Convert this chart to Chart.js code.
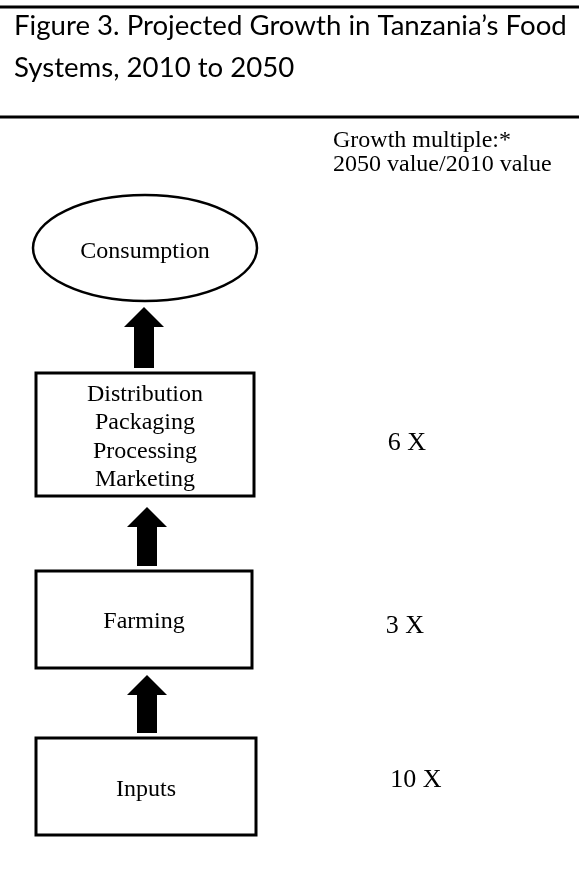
<!DOCTYPE html>
<html>
<head>
<meta charset="utf-8">
<script src="https://cdn.jsdelivr.net/npm/chart.js@4.4.1/dist/chart.umd.min.js"></script>
<style>
  html, body { margin: 0; padding: 0; background: #fff; }
  #wrap { width: 579px; height: 894px; }
</style>
</head>
<body>
<div id="wrap"><canvas id="fig"></canvas></div>
<script>
const TITLE_LINES = ['Figure 3. Projected Growth in Tanzania\u2019s Food', 'Systems, 2010 to 2050'];
const HEADER_LINES = ['Growth multiple:*', '2050 value/2010 value'];
// bottom to top, the way the arrows point
const STAGES = ['Inputs', 'Farming', 'Distribution\nPackaging\nProcessing\nMarketing', 'Consumption'];
const MULTIPLES = [10, 3, 6, null];

// page is laid out in pixel units on hidden linear axes
const W = 579;
const H = 894;
const SERIF = '"Liberation Serif", "Times New Roman", serif';

const boxes = [
  { x1: 36, x2: 256, y1: 738, y2: 835, base: 796 },
  { x1: 36, x2: 252, y1: 571, y2: 668, base: 628 },
  { x1: 36, x2: 254, y1: 373, y2: 496, base: 401 },
  { cx: 145, cy: 248, rx: 112, ry: 53, base: 258 }
];
const arrows = [
  { cx: 147, tip: 675, neck: 695, end: 733 },
  { cx: 147, tip: 507, neck: 527, end: 566 },
  { cx: 144, tip: 307, neck: 327, end: 368 }
];
const multipleSpots = [
  { x: 416, base: 787 },
  { x: 405, base: 633 },
  { x: 407, base: 450 }
];

const diagramPlugin = {
  id: 'diagram',
  afterDraw(chart) {
    const { ctx } = chart;
    const sx = chart.scales.x;
    const sy = chart.scales.y;
    const px = v => sx.getPixelForValue(v);
    const py = v => sy.getPixelForValue(v);

    ctx.save();
    ctx.fillStyle = '#000';
    ctx.strokeStyle = '#000';

    // title rules
    ctx.lineWidth = 3;
    [7, 117].forEach(yy => {
      ctx.beginPath();
      ctx.moveTo(px(0), py(yy));
      ctx.lineTo(px(W), py(yy));
      ctx.stroke();
    });

    // title, sized to fill the line like the original
    ctx.textAlign = 'left';
    ctx.textBaseline = 'alphabetic';
    ctx.font = '24px Lato';
    const size = 24 * 553 / ctx.measureText(TITLE_LINES[0]).width;
    ctx.font = size.toFixed(2) + 'px Lato';
    ctx.fillText(TITLE_LINES[0], px(14), py(35));
    ctx.fillText(TITLE_LINES[1], px(14), py(77));

    // column header
    ctx.font = '24px ' + SERIF;
    ctx.fillText(HEADER_LINES[0], px(333), py(147));
    ctx.fillText(HEADER_LINES[1], px(333), py(171));

    // stages
    ctx.textAlign = 'center';
    STAGES.forEach((name, i) => {
      const b = boxes[i];
      let cx;
      if (b.rx) {
        ctx.lineWidth = 2.5;
        ctx.beginPath();
        ctx.ellipse(px(b.cx), py(b.cy), b.rx, b.ry, 0, 0, Math.PI * 2);
        ctx.stroke();
        cx = b.cx;
      } else {
        ctx.lineWidth = 3;
        ctx.strokeRect(px(b.x1), py(b.y1), px(b.x2) - px(b.x1), py(b.y2) - py(b.y1));
        cx = (b.x1 + b.x2) / 2;
      }
      ctx.font = '24px ' + SERIF;
      name.split('\n').forEach((line, k) => {
        ctx.fillText(line, px(cx), py(b.base + k * 28.3));
      });
    });

    // block arrows between stages
    arrows.forEach(a => {
      const c = a.cx;
      ctx.beginPath();
      ctx.moveTo(px(c), py(a.tip));
      ctx.lineTo(px(c + 20), py(a.neck));
      ctx.lineTo(px(c + 10), py(a.neck));
      ctx.lineTo(px(c + 10), py(a.end));
      ctx.lineTo(px(c - 10), py(a.end));
      ctx.lineTo(px(c - 10), py(a.neck));
      ctx.lineTo(px(c - 20), py(a.neck));
      ctx.closePath();
      ctx.fill();
    });

    // growth multiples
    ctx.font = '26px ' + SERIF;
    MULTIPLES.forEach((m, i) => {
      if (m == null) return;
      const s = multipleSpots[i];
      ctx.fillText(m + ' X', px(s.x), py(s.base));
    });

    ctx.restore();
  }
};

new Chart(document.getElementById('fig'), {
  type: 'scatter',
  data: {
    datasets: [{
      label: 'stages',
      data: [],
      pointRadius: 0,
    }],
  },
  options: {
    responsive: true,
    maintainAspectRatio: false,
    animation: false,
    layout: { padding: 0 },
    plugins: {
      legend: { display: false },
      tooltip: { enabled: false },
    },
    scales: {
      x: { type: 'linear', min: 0, max: W, display: false },
      y: { type: 'linear', min: 0, max: H, reverse: true, display: false },
    },
  },
  plugins: [diagramPlugin],
});
</script>
</body>
</html>
